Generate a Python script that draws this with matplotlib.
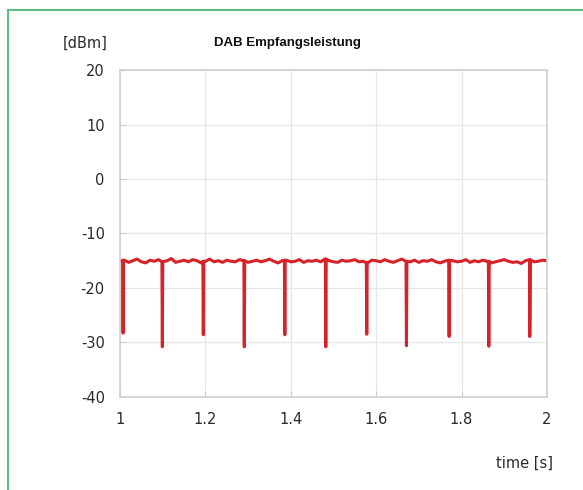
#DAB Empfangsleistung - received power trace over one second
#
#Plot of the DAB receive level in dBm against time

import matplotlib.pyplot as plt
from matplotlib.lines import Line2D

# baseline samples of the received power, 10 ms apart from 1.00 s to 2.00 s
base_time = [1.00 + 0.01 * i for i in range(101)]
base_level = [-15.1, -14.9, -15.3, -15.0, -14.7, -15.2, -15.4, -14.9, -15.1, -14.8,
              -15.2, -15.0, -14.6, -15.3, -15.1, -14.9, -15.2, -14.8, -15.0, -15.4,
              -15.1, -14.7, -15.2, -15.0, -15.3, -14.9, -15.1, -15.2, -14.8, -15.0,
              -15.3, -15.1, -14.9, -15.2, -15.0, -14.7, -15.1, -15.4, -15.0, -14.9,
              -15.2, -15.1, -14.8, -15.3, -15.0, -15.1, -14.9, -15.2, -14.7, -15.0,
              -15.2, -15.3, -14.9, -15.1, -15.0, -14.8, -15.2, -15.1, -15.4, -14.9,
              -15.0, -15.2, -14.8, -15.1, -15.3, -15.0, -14.7, -15.1, -15.2, -14.9,
              -15.3, -15.0, -15.1, -14.8, -15.2, -15.4, -15.1, -14.9, -15.0, -15.2,
              -15.1, -14.8, -15.3, -15.0, -15.2, -14.9, -15.1, -15.4, -15.2, -15.0,
              -14.8, -15.1, -15.3, -15.2, -15.5, -15.0, -14.8, -15.2, -15.1, -14.9,
              -15.0]

# short drops of the level (null symbols of the DAB frames)
dip_time = [1.007, 1.099, 1.195, 1.291, 1.386, 1.482, 1.578, 1.671, 1.771, 1.864, 1.960]
dip_level = [-28.3, -30.8, -28.6, -30.8, -28.6, -30.8, -28.5, -30.6, -28.9, -30.7, -28.9]

xticks = [1, 1.2, 1.4, 1.6, 1.8, 2]
xticklabels = ['1', '1.2', '1.4', '1.6', '1.8', '2']
yticks = [-40, -30, -20, -10, 0, 10, 20]

# merge the baseline and the drops into one time ordered trace
Time = list(base_time)
Level = list(base_level)
for t, v in zip(dip_time, dip_level):
	idx = min(range(len(base_time)), key=lambda k: abs(base_time[k] - t))
	Time += [t - 0.001, t, t + 0.001]
	Level += [base_level[idx], v, base_level[idx]]
order = sorted(range(len(Time)), key=lambda k: Time[k])
Time = [Time[k] for k in order]
Level = [Level[k] for k in order]

plt.rcParams['font.family'] = ['DejaVu Sans']
plt.rcParams['axes.unicode_minus'] = False

fig = plt.figure(figsize=(5.83, 4.9), dpi=100)
ax = fig.add_axes([0.206, 0.190, 0.732, 0.667])

ax.plot(Time, Level, color='#d62329', linewidth=2.2)

ax.set_xlim(1, 2)
ax.set_ylim(-40, 20)
ax.set_xticks(xticks)
ax.set_xticklabels(xticklabels)
ax.set_yticks(yticks)
ax.grid(True, color='#e6e6e6', linewidth=0.9)
ax.set_axisbelow(True)
for side in ax.spines.values():
	side.set_color('#d0d0d0')
	side.set_linewidth(1.2)
ax.tick_params(direction='in', length=4, color='#cccccc', labelsize=10.5,
               labelcolor='#2a2a2a', pad=11)

fig.text(0.146, 0.912, '[dBm]', ha='center', va='center', fontsize=10.5, color='#2a2a2a')
fig.text(0.493, 0.912, 'DAB Empfangsleistung', ha='center', va='center',
         fontsize=9.5, fontweight='bold', color='#111111', family='Liberation Sans')
fig.text(0.949, 0.055, 'time [s]', ha='right', va='center', fontsize=10.5, color='#2a2a2a')

# green frame along top and left edge
fig.add_artist(Line2D([8/583, 1.0], [1 - 10/490, 1 - 10/490], transform=fig.transFigure,
                      color='#5cbf8a', linewidth=1.5))
fig.add_artist(Line2D([8/583, 8/583], [0.0, 1 - 10/490], transform=fig.transFigure,
                      color='#5cbf8a', linewidth=1.5))

plt.savefig('out.png', dpi=100)
plt.close()
